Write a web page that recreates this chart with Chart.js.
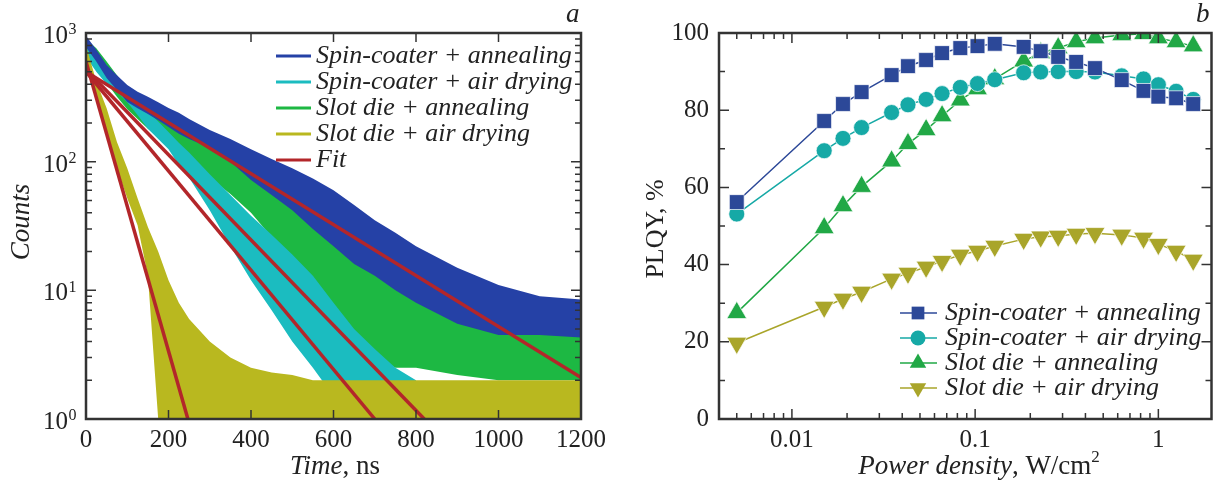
<!DOCTYPE html>
<html>
<head>
<meta charset="utf-8">
<script src="https://cdn.jsdelivr.net/npm/chart.js@4.4.1/dist/chart.umd.min.js"></script>
<style>
  html, body { margin: 0; padding: 0; background: #fff; }
  #wrap { position: relative; width: 1224px; height: 488px; }
  .panel { position: absolute; top: 0; width: 612px; height: 488px; }
  #pa { left: 0; }
  #pb { left: 612px; }
</style>
</head>
<body>
<div id="wrap">
  <div class="panel" id="pa"><canvas id="chartA" width="612" height="488"></canvas></div>
  <div class="panel" id="pb"><canvas id="chartB" width="612" height="488"></canvas></div>
</div>
<script>
// ---------- panel a : PL decay (band = upper / lower edge of the noisy trace) ----------
const timeNs = [0, 25, 50, 75, 100, 125, 150, 175, 200, 225, 250, 300, 350, 400, 450, 500, 550, 600, 650, 700, 750, 800, 900, 1000, 1100, 1200];

const spinAnnealHi = [950, 740, 565, 470, 394, 350, 320, 290, 261, 240, 215, 176, 150, 125, 105, 89, 74, 60, 46, 35, 28, 22, 15, 11, 9, 8.5];
const spinAnnealLo = [780, 600, 447, 360, 291, 260, 235, 210, 186, 165, 150, 128, 100, 72, 55, 42, 30, 22, 16, 13, 10, 8, 5.5, 4.5, 4.5, 4.3];

const spinAirHi = [850, 700, 560, 460, 380, 300, 245, 205, 170, 140, 118, 80, 55, 38, 27, 19, 13, 8, 5, 3.5, 2.5, 2, null, null, null, null];
const spinAirLo = [650, 500, 400, 350, 290, 230, 180, 150, 125, 94, 75, 42, 22, 12, 7, 4, 2.5, 1.5, 1, 1, 1, 1, null, null, null, null];

const slotAnnealHi = [900, 760, 600, 470, 370, 310, 270, 235, 205, 180, 160, 128, 100, 80, 64, 50, 38, 28, 20, 15, 13, 12, 9, 7, 6, 6];
const slotAnnealLo = [700, 540, 410, 320, 255, 215, 180, 155, 128, 110, 95, 75, 56, 40, 26, 12, 6, 4, 3, 3, 2.5, 2.5, 2.2, 2, 2, 2];

const slotAirHi = [800, 420, 260, 142, 89, 52, 31, 20, 12, 8, 6, 4, 3, 2.5, 2.3, 2.2, 2, 2, 2, 2, 2, 2, 2, 2, 2, 2];
const slotAirLo = [600, 300, 165, 89, 52, 32, 13, 1, 1, 1, 1, 1, 1, 1, 1, 1, 1, 1, 1, 1, 1, 1, 1, 1, 1, 1];

// exponential fits (straight on log axis: start / end points)
const fitSpinAnnealT = [0, 1200], fitSpinAnnealY = [500, 2.1];
const fitSpinAirT = [0, 700],     fitSpinAirY = [500, 1];
const fitSlotAnnealT = [0, 820],  fitSlotAnnealY = [520, 1];
const fitSlotAirT = [0, 247],     fitSlotAirY = [600, 1];

const timeTicks = [0, 200, 400, 600, 800, 1000, 1200];
const countTicks = [1, 2, 3, 4, 5, 6, 7, 8, 9, 10, 20, 30, 40, 50, 60, 70, 80, 90, 100, 200, 300, 400, 500, 600, 700, 800, 900, 1000];
const countLabels = [1, 10, 100, 1000];

// ---------- panel b : PLQY ----------
const powerDensity = [0.005, 0.015, 0.019, 0.024, 0.035, 0.043, 0.054, 0.066, 0.083, 0.103, 0.128, 0.184, 0.228, 0.284, 0.356, 0.451, 0.631, 0.83, 1.0, 1.25, 1.55];
const plqySpinAnneal = [56.2, 77.2, 81.6, 84.7, 89.1, 91.4, 93.0, 94.8, 96.1, 96.6, 97.2, 96.4, 95.3, 93.8, 92.5, 90.9, 87.8, 85.0, 83.5, 83.1, 81.6];
const plqySpinAir = [53.1, 69.5, 72.7, 75.5, 79.4, 81.4, 82.8, 84.3, 85.9, 86.9, 87.9, 89.7, 89.9, 90.0, 90.0, 89.9, 88.9, 88.1, 86.6, 84.9, 82.8];
const plqySlotAnneal = [27.5, 49.5, 55.2, 60.2, 66.8, 71.3, 74.9, 78.5, 82.6, 85.5, 88.1, 92.7, 94.8, 96.1, 97.7, 98.7, 99.5, 99.8, 98.7, 97.7, 96.6];
const plqySlotAir = [19.7, 29.0, 31.1, 32.9, 36.3, 37.8, 39.4, 40.9, 42.5, 43.5, 44.8, 46.6, 47.2, 47.4, 47.9, 48.1, 47.7, 46.9, 45.3, 43.5, 41.2];

const powerTicks = [0.005, 0.006, 0.007, 0.008, 0.009, 0.01, 0.02, 0.03, 0.04, 0.05, 0.06, 0.07, 0.08, 0.09, 0.1, 0.2, 0.3, 0.4, 0.5, 0.6, 0.7, 0.8, 0.9, 1];
const powerLabels = [0.01, 0.1, 1];
const plqyTicks = [0, 10, 20, 30, 40, 50, 60, 70, 80, 90, 100];

const seriesNames = ['Spin-coater + annealing', 'Spin-coater + air drying', 'Slot die + annealing', 'Slot die + air drying'];
const colorsA = ['#2541a6', '#1bbcc0', '#1db843', '#b9b81f'];
const fitColor = '#b3262a';
const colorsB = ['#2c4898', '#16a9a6', '#21a846', '#a9a52a'];
const markersB = ['rect', 'circle', 'triangle', 'triangleDown'];

const SERIF = '"Liberation Serif", "Times New Roman", serif';
const INK = '#222';

Chart.defaults.font.family = SERIF;
Chart.defaults.color = INK;

function pts(xs, ys) {
    return xs.map((x, i) => ({ x: x, y: ys[i] }));
}

function band(hi, lo, color) {
    return [
        { data: pts(timeNs, hi), borderColor: 'transparent', borderWidth: 0, backgroundColor: color, fill: '+1', pointRadius: 0, tension: 0, spanGaps: false },
        { data: pts(timeNs, lo), borderColor: 'transparent', borderWidth: 0, fill: false, pointRadius: 0, tension: 0, spanGaps: false }
    ];
}

function fitLine(t, y) {
    return { data: pts(t, y), borderColor: fitColor, borderWidth: 3.5, pointRadius: 0, fill: false, tension: 0 };
}

// mixed-style text drawn left to right: parts = [[text, font, dy]]
function drawParts(ctx, parts, x, y, align) {
    let total = 0;
    parts.forEach(p => { ctx.font = p[1]; total += ctx.measureText(p[0]).width; });
    let cx = align === 'center' ? x - total / 2 : x;
    ctx.textAlign = 'left';
    ctx.textBaseline = 'middle';
    parts.forEach(p => {
        ctx.font = p[1];
        ctx.fillText(p[0], cx, y + (p[2] || 0));
        cx += ctx.measureText(p[0]).width;
    });
}

function drawMarker(ctx, style, x, y, r, color) {
    ctx.fillStyle = color;
    ctx.beginPath();
    if (style === 'rect') {
        const s = r * Math.SQRT1_2;
        ctx.rect(x - s, y - s, 2 * s, 2 * s);
    } else if (style === 'circle') {
        ctx.arc(x, y, r, 0, Math.PI * 2);
    } else if (style === 'triangle') {
        ctx.moveTo(x, y - r); ctx.lineTo(x + 0.866 * r, y + 0.5 * r); ctx.lineTo(x - 0.866 * r, y + 0.5 * r);
    } else {
        ctx.moveTo(x, y + r); ctx.lineTo(x + 0.866 * r, y - 0.5 * r); ctx.lineTo(x - 0.866 * r, y - 0.5 * r);
    }
    ctx.closePath();
    ctx.fill();
}

// ---------- decorations panel a ----------
const decorA = {
    id: 'decorA',
    afterDraw(chart) {
        const ctx = chart.ctx, ca = chart.chartArea;
        const x = chart.scales.x, y = chart.scales.y;
        ctx.save();
        ctx.strokeStyle = '#333';
        ctx.lineWidth = 1.5;
        ctx.beginPath();
        timeTicks.forEach(v => {
            const px = x.getPixelForValue(v);
            ctx.moveTo(px, ca.bottom); ctx.lineTo(px, ca.bottom - 9);
            ctx.moveTo(px, ca.top); ctx.lineTo(px, ca.top + 9);
        });
        countTicks.forEach(v => {
            const py = y.getPixelForValue(v);
            const len = countLabels.includes(v) ? 10 : 6;
            ctx.moveTo(ca.left, py); ctx.lineTo(ca.left + len, py);
            ctx.moveTo(ca.right, py); ctx.lineTo(ca.right - len, py);
        });
        ctx.stroke();
        ctx.lineWidth = 2.5;
        ctx.strokeRect(ca.left, ca.top, ca.width, ca.height);

        // 10^n labels
        ctx.fillStyle = INK;
        countLabels.forEach(v => {
            const py = y.getPixelForValue(v);
            ctx.textBaseline = 'middle';
            ctx.font = '25px ' + SERIF;
            ctx.textAlign = 'right';
            ctx.fillText('10', 68, py + 3.5);
            ctx.font = '16px ' + SERIF;
            ctx.textAlign = 'left';
            ctx.fillText(String(Math.round(Math.log10(v))), 68.5, py - 3);
        });

        // axis titles
        drawParts(ctx, [['Time', 'italic 27px ' + SERIF], [', ns', '27px ' + SERIF]], 335, 467, 'center');
        ctx.save();
        ctx.translate(22, 222);
        ctx.rotate(-Math.PI / 2);
        drawParts(ctx, [['Counts', 'italic 27px ' + SERIF]], 0, 0, 'center');
        ctx.restore();
        drawParts(ctx, [['a', 'italic 27px ' + SERIF]], 566, 15, 'left');

        // legend
        const names = seriesNames.concat(['Fit']);
        const cols = colorsA.concat([fitColor]);
        ctx.lineWidth = 3;
        names.forEach((n, i) => {
            const ly = 56 + i * 26;
            ctx.strokeStyle = cols[i];
            ctx.beginPath(); ctx.moveTo(276, ly); ctx.lineTo(311, ly); ctx.stroke();
            ctx.fillStyle = INK;
            drawParts(ctx, [[n, 'italic 26px ' + SERIF]], 316, ly, 'left');
        });
        ctx.restore();
    }
};

// ---------- decorations panel b ----------
const decorB = {
    id: 'decorB',
    afterDraw(chart) {
        const ctx = chart.ctx, ca = chart.chartArea;
        const x = chart.scales.x, y = chart.scales.y;
        ctx.save();
        ctx.strokeStyle = '#333';
        ctx.lineWidth = 1.5;
        ctx.beginPath();
        powerTicks.forEach(v => {
            const px = x.getPixelForValue(v);
            const len = powerLabels.includes(v) ? 10 : 6;
            ctx.moveTo(px, ca.bottom); ctx.lineTo(px, ca.bottom - len);
            ctx.moveTo(px, ca.top); ctx.lineTo(px, ca.top + len);
        });
        plqyTicks.forEach(v => {
            const py = y.getPixelForValue(v);
            const len = v % 20 === 0 ? 10 : 6;
            ctx.moveTo(ca.left, py); ctx.lineTo(ca.left + len, py);
            ctx.moveTo(ca.right, py); ctx.lineTo(ca.right - len, py);
        });
        ctx.stroke();
        ctx.lineWidth = 2.5;
        ctx.strokeRect(ca.left, ca.top, ca.width, ca.height);

        ctx.fillStyle = INK;
        drawParts(ctx, [['Power density', 'italic 27px ' + SERIF], [', W/cm', '27px ' + SERIF], ['2', '17px ' + SERIF, -9]], 367, 467, 'center');
        ctx.save();
        ctx.translate(44, 229);
        ctx.rotate(-Math.PI / 2);
        drawParts(ctx, [['PLQY, %', '26px ' + SERIF]], 0, 0, 'center');
        ctx.restore();
        drawParts(ctx, [['b', 'italic 27px ' + SERIF]], 584, 15, 'left');

        // legend
        seriesNames.forEach((n, i) => {
            const ly = 313 + i * 25;
            ctx.strokeStyle = colorsB[i];
            ctx.lineWidth = 1.5;
            ctx.beginPath(); ctx.moveTo(288, ly); ctx.lineTo(325, ly); ctx.stroke();
            const r = markersB[i] === 'rect' ? 9 : (markersB[i] === 'circle' ? 7.5 : 9.5);
            drawMarker(ctx, markersB[i], 306, ly, r, colorsB[i]);
            ctx.fillStyle = INK;
            drawParts(ctx, [[n, 'italic 26px ' + SERIF]], 333, ly, 'left');
        });
        ctx.restore();
    }
};

// ---------- chart a ----------
const datasetsA = [
    fitLine(fitSpinAnnealT, fitSpinAnnealY),
    fitLine(fitSpinAirT, fitSpinAirY),
    fitLine(fitSlotAnnealT, fitSlotAnnealY),
    fitLine(fitSlotAirT, fitSlotAirY)
].concat(
    band(spinAnnealHi, spinAnnealLo, colorsA[0]),
    band(slotAirHi, slotAirLo, colorsA[3]),
    band(spinAirHi, spinAirLo, colorsA[1]),
    band(slotAnnealHi, slotAnnealLo, colorsA[2])
);

new Chart(document.getElementById('chartA'), {
    type: 'line',
    data: { datasets: datasetsA },
    options: {
        responsive: false,
        animation: false,
        events: [],
        layout: { padding: { left: 0, right: 25, top: 33, bottom: 0 } },
        plugins: { legend: { display: false }, tooltip: { enabled: false } },
        scales: {
            x: {
                type: 'linear', min: 0, max: 1200,
                grid: { display: false, drawTicks: false },
                border: { display: false },
                afterBuildTicks: s => { s.ticks = timeTicks.map(v => ({ value: v })); },
                ticks: { font: { size: 25 }, color: INK, padding: 6, maxRotation: 0, autoSkip: false, callback: v => String(v) },
                afterFit: s => { s.height = 69; }
            },
            y: {
                type: 'logarithmic', min: 1, max: 1000,
                grid: { display: false, drawTicks: false },
                border: { display: false },
                ticks: { display: false },
                afterFit: s => { s.width = 86; }
            }
        }
    },
    plugins: [decorA]
});

// ---------- chart b ----------
const plqySeries = [plqySpinAnneal, plqySpinAir, plqySlotAnneal, plqySlotAir];
const datasetsB = plqySeries.map((vals, i) => ({
    label: seriesNames[i],
    data: pts(powerDensity, vals),
    borderColor: colorsB[i],
    backgroundColor: colorsB[i],
    borderWidth: 1.5,
    pointStyle: markersB[i] === 'triangleDown' ? 'triangle' : markersB[i],
    rotation: markersB[i] === 'triangleDown' ? 180 : 0,
    pointRadius: markersB[i] === 'rect' ? 10.5 : (markersB[i] === 'circle' ? 8 : 11.5),
    pointBorderColor: 'rgba(255,255,255,0.7)',
    pointBorderWidth: 1,
    fill: false,
    tension: 0,
    clip: 1
}));

new Chart(document.getElementById('chartB'), {
    type: 'line',
    data: { datasets: datasetsB },
    options: {
        responsive: false,
        animation: false,
        events: [],
        layout: { padding: { left: 0, right: 7, top: 33, bottom: 0 } },
        plugins: { legend: { display: false }, tooltip: { enabled: false } },
        scales: {
            x: {
                type: 'logarithmic', min: 0.004, max: 1.95,
                grid: { display: false, drawTicks: false },
                border: { display: false },
                afterBuildTicks: s => { s.ticks = powerTicks.map(v => ({ value: v })); },
                ticks: {
                    font: { size: 25 }, color: INK, padding: 6, maxRotation: 0, autoSkip: false,
                    callback: v => powerLabels.includes(v) ? String(v) : ''
                },
                afterFit: s => { s.height = 69; }
            },
            y: {
                type: 'linear', min: 0, max: 100,
                grid: { display: false, drawTicks: false },
                border: { display: false },
                afterBuildTicks: s => { s.ticks = plqyTicks.map(v => ({ value: v })); },
                ticks: {
                    font: { size: 25 }, color: INK, padding: 10, autoSkip: false,
                    callback: v => v % 20 === 0 ? String(v) : ''
                },
                afterFit: s => { s.width = 107; }
            }
        }
    },
    plugins: [decorB]
});
</script>
</body>
</html>
